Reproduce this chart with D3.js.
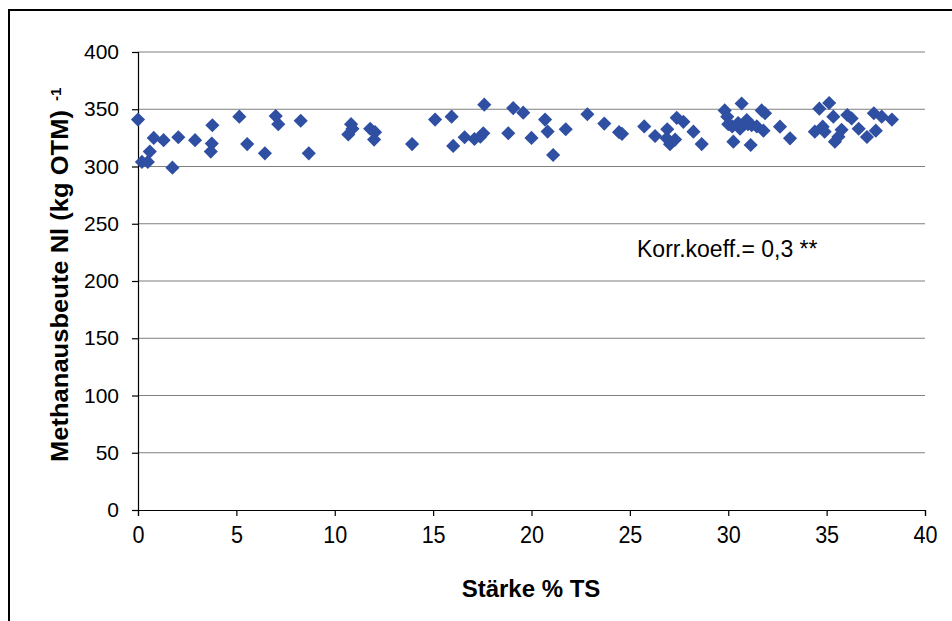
<!DOCTYPE html>
<html>
<head>
<meta charset="utf-8">
<script src="https://cdn.jsdelivr.net/npm/d3@7"></script>
<style>
  body { margin: 0; background: white; }
  text { font-family: Arial, "Liberation Sans", sans-serif; }
</style>
</head>
<body>
<div id="container"></div>
<script>
let w = 952;
let h = 621;

// Stärke % TS
let staerke = [
  0.0, 0.2, 0.5, 0.6, 0.8, 1.3, 1.75, 2.05, 2.9, 3.78, 3.75, 3.7, 5.15, 5.55, 6.45, 7.0, 7.13,
  8.27, 8.68, 10.83, 10.9, 10.69, 11.8, 12.05, 12.0, 13.93, 15.1, 15.94, 16.02, 16.6, 17.1, 17.4,
  17.55, 17.6, 18.82, 19.07, 19.58, 20.0, 20.69, 20.82, 21.1, 21.74, 22.84, 23.7, 24.45, 24.6,
  25.73, 26.28, 26.9, 26.87, 27.04, 27.3, 27.38, 27.72, 28.23, 28.65, 29.82, 29.95, 30.2, 30.26,
  30.6, 30.68, 30.94, 31.19, 31.45, 31.14, 31.7, 31.87, 31.79, 31.0, 30.0, 30.5, 32.63, 33.14,
  34.63, 35.13, 35.34, 34.4, 34.8, 34.9, 35.76, 35.42, 35.6, 36.05, 36.27, 36.63, 37.05, 37.5,
  37.4, 37.8, 38.32
];

// Methanausbeute Nl (kg OTM)-1
let methan = [
  341, 304, 304, 313, 325, 323, 299, 325.5, 323, 336, 320, 313, 343.5, 319.6, 311.5, 344, 337,
  340, 311.5, 337, 333, 328, 333, 330, 323.5, 319.6, 341, 343.5, 318, 325.5, 324, 326,
  329, 354, 329, 351, 347, 325, 341, 330.5, 310, 332.5, 345.6, 337.5, 330, 328.5,
  335, 326.6, 332.5, 324.6, 319.5, 323.5, 342.5, 339, 330.4, 319.6, 349, 343.5, 335, 321.7,
  333, 355, 340.6, 336, 335, 318.8, 349, 346.5, 331.3, 337, 337, 338, 334.8, 324.6,
  350.5, 355.5, 343.5, 330.4, 334.8, 330.4, 332, 321.7, 326, 345, 342, 333, 325.8, 331.3,
  346.5, 343.5, 341
];

let xTicks = [0, 5, 10, 15, 20, 25, 30, 35, 40];
let yTicks = [0, 50, 100, 150, 200, 250, 300, 350, 400];

let points = staerke.map((d, i) => ({x: d, y: methan[i]}));

let viz = d3.select("#container")
  .append("svg")
    .attr("width", w)
    .attr("height", h)
    .style("display", "block")
;

// outer frame
viz.append("rect")
    .attr("x", 9)
    .attr("y", 10)
    .attr("width", w)
    .attr("height", h)
    .style("fill", "white")
    .style("stroke", "black")
    .style("stroke-width", 2)
;

let xScale = d3.scaleLinear().domain([0, 40]).range([138, 925]);
let yScale = d3.scaleLinear().domain([0, 400]).range([510, 52]);

// gridlines
viz.selectAll(".grid").data(yTicks.filter(d => d > 0)).enter()
  .append("line")
    .attr("class", "grid")
    .attr("x1", xScale(0))
    .attr("x2", xScale(40))
    .attr("y1", d => yScale(d))
    .attr("y2", d => yScale(d))
    .style("stroke", "#7f7f7f")
    .style("stroke-width", 1.2)
;

// axes
let yAxis = d3.axisLeft(yScale).tickValues(yTicks).tickSize(6).tickPadding(13);
let yAxisGroup = viz.append("g")
    .attr("transform", "translate(" + xScale(0) + ",0)")
    .call(yAxis)
;
yAxisGroup.selectAll("text")
    .style("font-size", "21px")
    .style("fill", "black")
;

let xAxis = d3.axisBottom(xScale).tickValues(xTicks).tickSize(6).tickPadding(10);
let xAxisGroup = viz.append("g")
    .attr("transform", "translate(0," + yScale(0) + ")")
    .call(xAxis)
;
// labels on the x axis look narrow and tall
xAxisGroup.selectAll("text")
    .style("font-size", "24px")
    .style("fill", "black")
    .attr("textLength", d => d >= 10 ? 24 : 12)
    .attr("lengthAdjust", "spacingAndGlyphs")
;

viz.selectAll(".domain, .tick line")
    .style("stroke", "black")
    .style("stroke-width", 1.2)
;

// points
viz.selectAll(".pt").data(points).enter()
  .append("path")
    .attr("class", "pt")
    .attr("d", d3.symbol(d3.symbolSquare, 100))
    .attr("transform", d => "translate(" + xScale(d.x) + "," + yScale(d.y) + ") rotate(45)")
    .style("fill", "#2f4fa2")
;

// axis titles
viz.append("text")
    .text("Stärke % TS")
    .attr("x", 531)
    .attr("y", 597)
    .attr("text-anchor", "middle")
    .style("font-size", "24px")
    .style("font-weight", "bold")
;

let yTitle = viz.append("text")
    .attr("transform", "translate(68,462) rotate(-90)")
    .attr("text-anchor", "start")
    .style("font-size", "24px")
    .style("font-weight", "bold")
;
yTitle.append("tspan")
    .text("Methanausbeute Nl (kg OTM)")
    .attr("textLength", 352)
    .attr("lengthAdjust", "spacingAndGlyphs")
;
yTitle.append("tspan")
    .text("-1")
    .attr("dx", 9)
    .attr("dy", -7)
    .style("font-size", "15px")
;

// annotation
viz.append("text")
    .text("Korr.koeff.= 0,3 **")
    .attr("x", 637)
    .attr("y", 257)
    .style("font-size", "23px")
;
</script>
</body>
</html>
